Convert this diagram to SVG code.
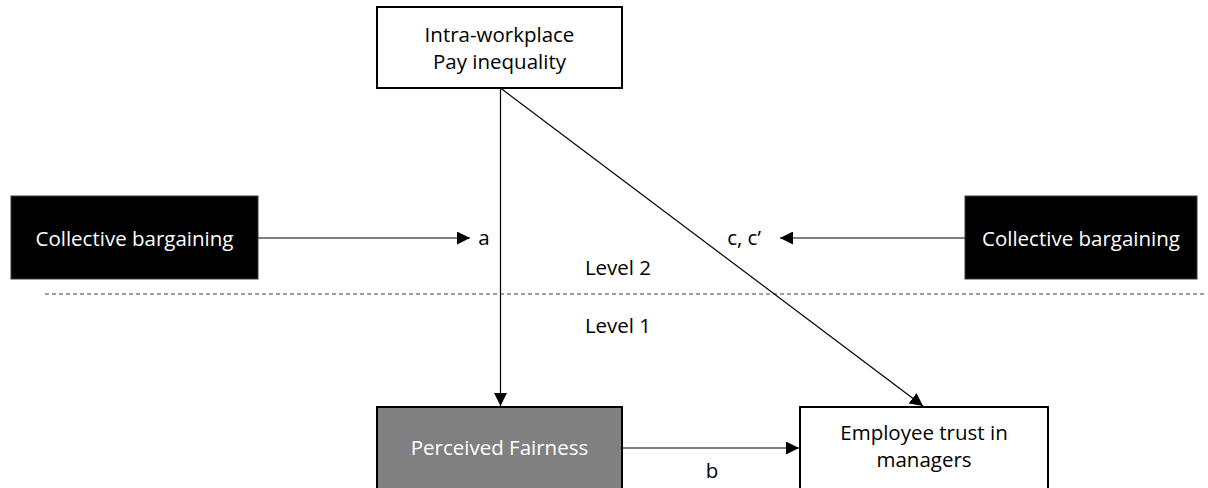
<svg xmlns="http://www.w3.org/2000/svg" width="1208" height="488" viewBox="0 0 1208 488">
<style>
text{font-family:"Open Sans","Noto Sans",sans-serif;font-size:20.5px;text-anchor:middle;fill:#000}
.w{fill:#fff}
.box{fill:#fff;stroke:#000;stroke-width:2}
.dark{fill:#000;stroke:#3a3a3a;stroke-width:1}
.grey{fill:#808080;stroke:#000;stroke-width:2}
.c{stroke:#000;stroke-width:1.2;fill:none}
</style>
<defs>
<marker id="ah2" markerWidth="13" markerHeight="13" refX="13" refY="6.5" orient="auto" markerUnits="userSpaceOnUse" viewBox="0 0 13 13">
<path d="M0,0 L13,6.5 L0,13 z" fill="#000"/>
</marker>
</defs>
<line x1="45" y1="294" x2="1206" y2="294" stroke="#7f7f7f" stroke-width="1.5" stroke-dasharray="4,3"/>
<g id="connectors">
<line class="c" x1="500.5" y1="88" x2="500.5" y2="406" marker-end="url(#ah2)"/>
<line class="c" x1="500.5" y1="88" x2="923" y2="406" marker-end="url(#ah2)"/>
<line class="c" x1="258" y1="238" x2="470" y2="238" marker-end="url(#ah2)"/>
<line class="c" x1="965" y1="238" x2="780" y2="238" marker-end="url(#ah2)"/>
<line class="c" x1="622" y1="448" x2="799" y2="448" marker-end="url(#ah2)"/>
</g>
<g id="pay">
<rect class="box" x="377" y="7" width="245" height="81"/>
<text x="499.5" y="42">Intra-workplace</text>
<text x="499.5" y="69">Pay inequality</text>
</g>
<g id="cb-left">
<rect class="dark" x="11" y="196" width="247" height="83"/>
<text class="w" x="134.5" y="246">Collective bargaining</text>
</g>
<g id="cb-right">
<rect class="dark" x="965" y="196" width="232" height="83"/>
<text class="w" x="1081" y="246">Collective bargaining</text>
</g>
<g id="fair">
<rect class="grey" x="377" y="407" width="245" height="90"/>
<text class="w" x="499.5" y="455">Perceived Fairness</text>
</g>
<g id="trust">
<rect class="box" x="800" y="407" width="248" height="90"/>
<text x="924" y="440">Employee trust in</text>
<text x="924" y="467">managers</text>
</g>
<g id="labels">
<text x="484" y="245">a</text>
<text x="744" y="245">c, c’</text>
<text x="618" y="275">Level 2</text>
<text x="618" y="333">Level 1</text>
<text x="712" y="478">b</text>
</g>
</svg>
